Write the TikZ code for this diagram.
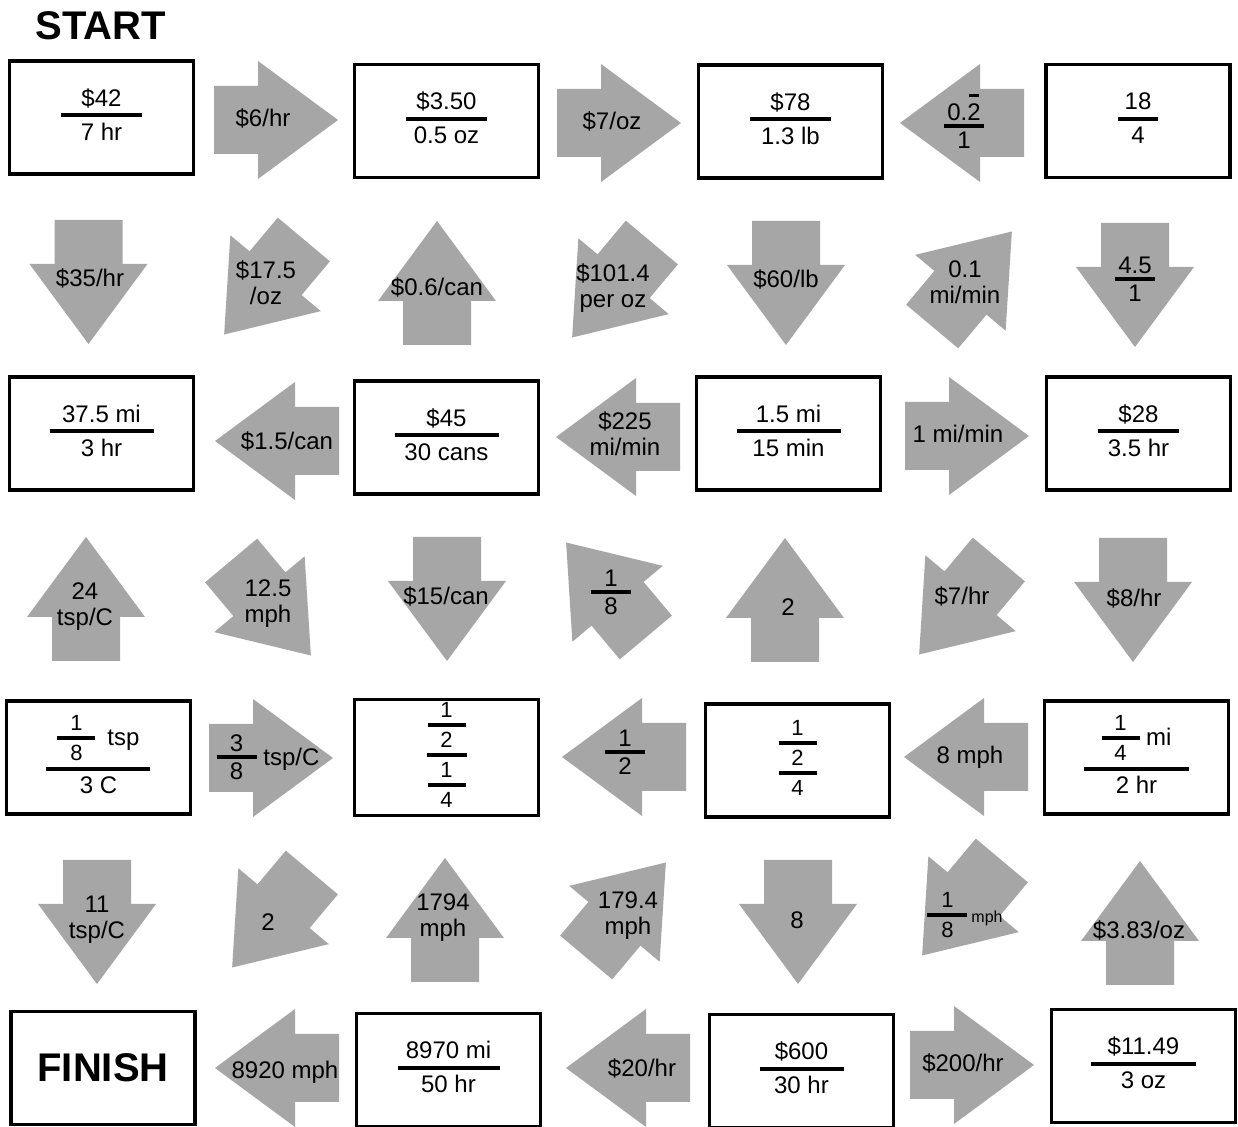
\documentclass[tikz,border=0pt]{standalone}
\usepackage{fontspec}
\setmainfont{Liberation Sans}
\usepackage{xcolor}
\definecolor{cinzaSeta}{RGB}{166,166,166}
\newcommand{\pq}{\fontsize{11}{13}\selectfont}
\newcommand{\traco}[1]{\\[-.75em]\rule{#1}{2pt}\\[-.25em]}
\newcommand{\fr}[3]{\begin{tabular}{@{}c@{}}#2\traco{#1}#3\end{tabular}}
\tikzset{
    caixa/.style={
        draw,
        line width=1.75pt,
        minimum width=92pt,
        minimum height=56.5pt,
        inner sep=0pt,
        align=center,
        font=\fontsize{12}{14.5}\selectfont
    },
    rotulo/.style={inner sep=0pt, align=center, font=\fontsize{12}{13}\selectfont},
    titulo/.style={inner sep=0pt, font=\fontsize{20}{24}\selectfont\bfseries},
    seta/.pic={
        \fill[cinzaSeta] (-62,-34) -- (-18,-34) -- (-18,-59) -- (62,0)
            -- (-18,59) -- (-18,34) -- (-62,34) -- cycle;
    }
}

\begin{document}
\begin{tikzpicture}[x=0.5pt, y=-0.5pt]
    \path[use as bounding box, fill=white] (0,0) rectangle (1238,1127);

    \node[titulo] (inicio) at (101,25.5) {START};

    % caixas
    \node[caixa] (c11) at (101.5,117.5) {\fr{40.5pt}{\$42}{7 hr}};
    \node[caixa] (c12) at (446.5,121) {\fr{40.5pt}{\$3.50}{0.5 oz}};
    \node[caixa] (c13) at (790.5,121.5) {\fr{40.5pt}{\$78}{1.3 lb}};
    \node[caixa] (c14) at (1138,121) {\fr{20pt}{18}{4}};

    \node[caixa] (c31) at (101.5,433.5) {\fr{52pt}{37.5 mi}{3 hr}};
    \node[caixa] (c32) at (446.5,437.5) {\fr{52pt}{\$45}{30 cans}};
    \node[caixa] (c33) at (788.5,433.5) {\fr{52pt}{1.5 mi}{15 min}};
    \node[caixa] (c34) at (1138.5,433.5) {\fr{40.5pt}{\$28}{3.5 hr}};

    \node[caixa] (c51) at (98.5,757.5)
        {\fr{52pt}{{\pq\fr{19pt}{1}{8}}\hspace{6pt}tsp}{3 C}};
    \node[caixa, font=\pq] (c52) at (446.5,757.5)
        {\begin{tabular}{@{}c@{}}1\traco{19pt}2\traco{20pt}1\traco{19pt}4\end{tabular}};
    \node[caixa, font=\pq] (c53) at (797.5,760.5)
        {\begin{tabular}{@{}c@{}}1\traco{19pt}2\traco{19pt}4\end{tabular}};
    \node[caixa] (c54) at (1136.5,757.5)
        {\fr{52.5pt}{{\pq\fr{19pt}{1}{4}} mi}{2 hr}};

    \node[caixa, font=\fontsize{20}{24}\selectfont\bfseries] (c71) at (103,1068) {FINISH};
    \node[caixa] (c72) at (448.5,1070) {\fr{51pt}{8970 mi}{50 hr}};
    \node[caixa] (c73) at (801.5,1071) {\fr{42pt}{\$600}{30 hr}};
    \node[caixa] (c74) at (1143.5,1066) {\fr{52.5pt}{\$11.49}{3 oz}};

    % setas
    \pic[rotate=0] at (276,120) {seta};
    \node[rotulo] (s11) at (263,118) {\$6/hr};
    \pic[rotate=0] at (619,123) {seta};
    \node[rotulo] (s12) at (612,121) {\$7/oz};
    \pic[rotate=180] at (962,123) {seta};
    \node[rotulo] (s13) at (964,125)
        {\fr{20pt}{0.\makebox[0pt][l]{\hspace{0.8pt}\rule[11.5pt]{5pt}{1.7pt}}2}{1}};

    \pic[rotate=270] at (88.5,282) {seta};
    \node[rotulo] (s21) at (90,278) {\$35/hr};
    \pic[rotate=230] at (264,287) {seta};
    \node[rotulo] (s22) at (266,283) {\$17.5\\/oz};
    \pic[rotate=90] at (437,283) {seta};
    \node[rotulo] (s23) at (437,287) {\$0.6/can};
    \pic[rotate=230] at (612,290) {seta};
    \node[rotulo] (s24) at (613,288) {\$101.4\\per oz};
    \pic[rotate=270] at (786,283) {seta};
    \node[rotulo] (s25) at (786,279) {\$60/lb};
    \pic[rotate=50] at (972,279) {seta};
    \node[rotulo] (s26) at (965,282) {0.1\\mi/min};
    \pic[rotate=270] at (1135,285) {seta};
    \node[rotulo] (s27) at (1135,282) {\fr{20pt}{4.5}{1}};

    \pic[rotate=180] at (277,441) {seta};
    \node[rotulo] (s31) at (287,441) {\$1.5/can};
    \pic[rotate=180] at (618,437) {seta};
    \node[rotulo] (s32) at (625,434) {\$225\\mi/min};
    \pic[rotate=0] at (967,436) {seta};
    \node[rotulo] (s33) at (958,434) {1 mi/min};

    \pic[rotate=90] at (86,599) {seta};
    \node[rotulo] (s41) at (85,607) {24\\tsp/C};
    \pic[rotate=310] at (271,608) {seta};
    \node[rotulo] (s42) at (268,604) {12.5\\mph};
    \pic[rotate=270] at (447,599) {seta};
    \node[rotulo] (s43) at (446,596) {\$15/can};
    \pic[rotate=130] at (606,590) {seta};
    \node[rotulo] (s44) at (611,595) {\fr{20pt}{1}{8}};
    \pic[rotate=90] at (785,600) {seta};
    \node[rotulo] (s45) at (788,607) {2};
    \pic[rotate=230] at (959,607) {seta};
    \node[rotulo] (s46) at (962,596) {\$7/hr};
    \pic[rotate=270] at (1133,600) {seta};
    \node[rotulo] (s47) at (1134,598) {\$8/hr};

    \pic[rotate=0] at (271,758) {seta};
    \node[rotulo] (s51) at (268,760) {\fr{20pt}{3}{8} tsp/C};
    \pic[rotate=180] at (624,757) {seta};
    \node[rotulo] (s52) at (625,755) {\fr{20pt}{1}{2}};
    \pic[rotate=180] at (966,757) {seta};
    \node[rotulo] (s53) at (970,757) {8 mph};

    \pic[rotate=270] at (97,922) {seta};
    \node[rotulo] (s61) at (97,920) {11\\tsp/C};
    \pic[rotate=230] at (272,920) {seta};
    \node[rotulo] (s62) at (268,922) {2};
    \pic[rotate=90] at (445,920) {seta};
    \node[rotulo] (s63) at (443,918) {1794\\mph};
    \pic[rotate=50] at (626,910) {seta};
    \node[rotulo] (s64) at (628,916) {179.4\\mph};
    \pic[rotate=270] at (798,922) {seta};
    \node[rotulo] (s65) at (797,920) {8};
    \pic[rotate=230] at (962,908) {seta};
    \node[rotulo] (s66) at (965,917) {{\pq\fr{20pt}{1}{8}}\,{\fontsize{8}{9}\selectfont mph}};
    \pic[rotate=90] at (1140,923) {seta};
    \node[rotulo] (s67) at (1139,930) {\$3.83/oz};

    \pic[rotate=180] at (277,1068) {seta};
    \node[rotulo] (s71) at (285,1072) {8920 mph};
    \pic[rotate=180] at (628,1068) {seta};
    \node[rotulo] (s72) at (642,1068) {\$20/hr};
    \pic[rotate=0] at (972,1065) {seta};
    \node[rotulo] (s73) at (963,1063) {\$200/hr};
\end{tikzpicture}
\end{document}
